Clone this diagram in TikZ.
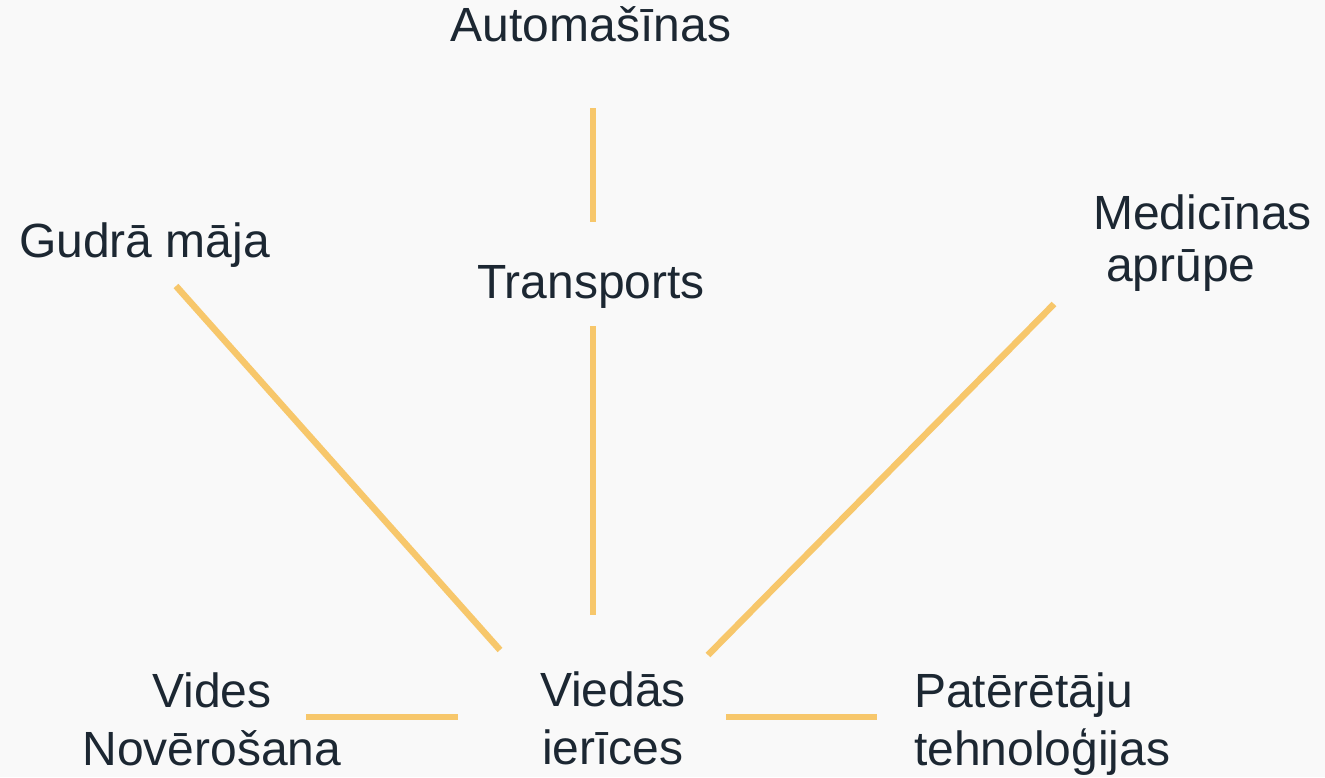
\documentclass[tikz,border=0pt]{standalone}
\usepackage{fontspec}
\setmainfont{Liberation Sans}
\usetikzlibrary{calc}
\definecolor{bg}{HTML}{F9F9F9}
\definecolor{ink}{HTML}{1C2732}
\definecolor{gold}{HTML}{F7C76B}
\begin{document}
\begin{tikzpicture}[x=1pt,y=-1pt,
  lbl/.style={inner sep=0pt,text=ink,font=\fontsize{48}{58}\selectfont},
  link/.style={draw=gold,line width=6.5pt,line cap=butt}]
\fill[bg] (0,0) rectangle (1325,777);
\useasboundingbox (0,0) rectangle (1325,777);
\node[lbl,anchor=base] (auto) at (591,41) {Automašīnas};
\node[lbl,anchor=base] (trans) at (591,298) {Transports};
\node[lbl,anchor=base] (gudra) at (144.5,257) {Gudrā māja};
\node[lbl,anchor=base west,align=left,font=\fontsize{48}{52}\selectfont] (med) at (1093,281) {Medicīnas\\\hspace*{13pt}aprūpe};
\node[lbl,anchor=base,align=center] (vides) at (212,765) {Vides\\Novērošana};
\node[lbl,anchor=base,align=center] (viedas) at (613,764) {Viedās\\ierīces};
\node[lbl,anchor=base west,align=left] (pat) at (914,765) {Patērētāju\\tehnoloģijas};
\draw[link] ($(auto.base)+(2,67)$) -- ($(trans.base)+(2,-76)$);
\draw[link] ($(trans.base)+(2,28)$) -- ($(viedas.base)+(-20,-149)$);
\draw[link] ($(gudra.base)+(31.5,29)$) -- ($(viedas.base)+(-113,-114)$);
\draw[link] ($(med.base west)+(-39,23)$) -- ($(viedas.base)+(95,-109)$);
\draw[link] ($(vides.base)+(94,-48)$) -- ($(viedas.base)+(-155,-47)$);
\draw[link] ($(viedas.base)+(113,-47)$) -- ($(pat.base west)+(-37,-48)$);
\end{tikzpicture}
\end{document}
